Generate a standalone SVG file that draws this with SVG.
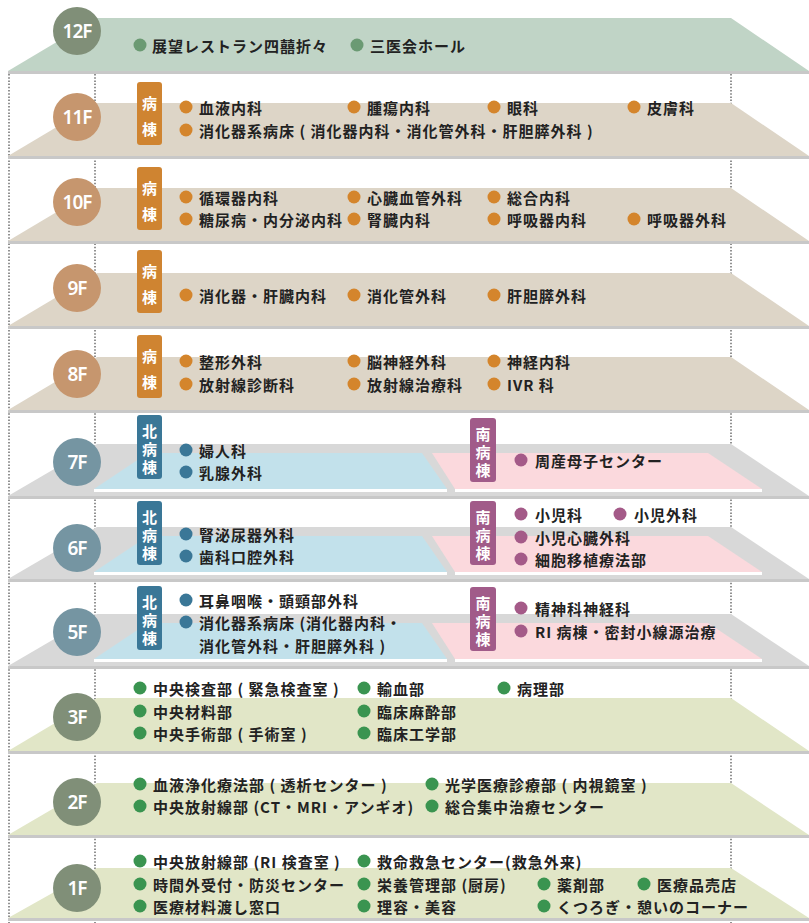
<svg xmlns="http://www.w3.org/2000/svg" width="809" height="923" viewBox="0 0 809 923">
<style>
.t{font-family:"Noto Sans CJK JP","Noto Sans",sans-serif;font-weight:700;font-size:15px;letter-spacing:1px;fill:#222;dominant-baseline:central}
.tg{font-family:"Noto Sans CJK JP","Noto Sans",sans-serif;font-weight:700;font-size:15px;fill:#fff;text-anchor:middle;writing-mode:vertical-rl}
.t2{letter-spacing:11px}
.t3{letter-spacing:3px}
.fl{font-family:"Noto Sans","Noto Sans CJK JP",sans-serif;font-weight:600;font-size:19px;letter-spacing:-1px;fill:#fff;text-anchor:middle;dominant-baseline:central}
.dot{stroke:#6e6e6e;stroke-width:1.5;stroke-dasharray:1.5 1.7;fill:none}
.ln{fill:#c8c8c8}
.pg{fill:#c0d4c6}.pb{fill:#ddd5c7}.pr{fill:#d8d8d8}.po{fill:#e1e6c7}
.cg{fill:#808f78}.cb{fill:#c6966e}.cs{fill:#7595a2}
.bg{fill:#6b9a73}.bb{fill:#d4852c}.bn{fill:#3a7797}.bs{fill:#a45a88}.bo{fill:#3a9450}
.tgo{fill:#cf8431}.tgn{fill:#3a7797}.tgs{fill:#a15b89}
.blue{fill:#c2e1eb}.pink{fill:#fbd9dd}.wh{fill:#fff}
</style>
<g id="guides">
<line class="dot" x1="9" y1="74" x2="9" y2="923"/>
<line class="dot" x1="95" y1="74" x2="95" y2="923"/>
<line class="dot" x1="731" y1="74" x2="731" y2="923"/>
</g>
<g id="f12">
<polygon class="pg" points="97,18 731,18 809,71 8,71"/>
<rect class="ln" x="8" y="71" width="801" height="3"/>
<circle class="cg" cx="77" cy="31" r="24"/><text class="fl" x="77" y="31">12F</text>
<circle class="bg" cx="140" cy="45" r="6.5"/><text class="t" x="152" y="45">展望レストラン四囍折々</text>
<circle class="bg" cx="357" cy="45" r="6.5"/><text class="t" x="370" y="45">三医会ホール</text>
</g>
<g id="f11">
<polygon class="pb" points="97,103 731,103 809,156 8,156"/>
<rect class="ln" x="8" y="156" width="801" height="3"/>
<circle class="cb" cx="77" cy="117" r="24"/><text class="fl" x="77" y="117">11F</text>
<rect class="tgo" x="137" y="82" width="25" height="63" rx="3"/>
<text class="tg t2" x="149.5" y="121.5">病棟</text>
<circle class="bb" cx="186" cy="107" r="6.5"/><text class="t" x="199" y="107">血液内科</text>
<circle class="bb" cx="354" cy="107" r="6.5"/><text class="t" x="367" y="107">腫瘍内科</text>
<circle class="bb" cx="494" cy="107" r="6.5"/><text class="t" x="507" y="107">眼科</text>
<circle class="bb" cx="634" cy="107" r="6.5"/><text class="t" x="647" y="107">皮膚科</text>
<circle class="bb" cx="186" cy="130" r="6.5"/><text class="t" x="199" y="130">消化器系病床 ( 消化器内科・消化管外科・肝胆膵外科 )</text>
</g>
<g id="f10">
<polygon class="pb" points="97,188 731,188 809,241 8,241"/>
<rect class="ln" x="8" y="241" width="801" height="3"/>
<circle class="cb" cx="77" cy="202" r="24"/><text class="fl" x="77" y="202">10F</text>
<rect class="tgo" x="137" y="167" width="25" height="63" rx="3"/>
<text class="tg t2" x="149.5" y="206.5">病棟</text>
<circle class="bb" cx="186" cy="197" r="6.5"/><text class="t" x="199" y="197">循環器内科</text>
<circle class="bb" cx="354" cy="197" r="6.5"/><text class="t" x="367" y="197">心臓血管外科</text>
<circle class="bb" cx="494" cy="197" r="6.5"/><text class="t" x="507" y="197">総合内科</text>
<circle class="bb" cx="186" cy="219" r="6.5"/><text class="t" x="199" y="219">糖尿病・内分泌内科</text>
<circle class="bb" cx="354" cy="219" r="6.5"/><text class="t" x="367" y="219">腎臓内科</text>
<circle class="bb" cx="494" cy="219" r="6.5"/><text class="t" x="507" y="219">呼吸器内科</text>
<circle class="bb" cx="634" cy="219" r="6.5"/><text class="t" x="647" y="219">呼吸器外科</text>
</g>
<g id="f9">
<polygon class="pb" points="97,273 731,273 809,326 8,326"/>
<rect class="ln" x="8" y="326" width="801" height="3"/>
<circle class="cb" cx="77" cy="288" r="24"/><text class="fl" x="77" y="288">9F</text>
<rect class="tgo" x="137" y="250" width="25" height="63" rx="3"/>
<text class="tg t2" x="149.5" y="289.5">病棟</text>
<circle class="bb" cx="186" cy="295" r="6.5"/><text class="t" x="199" y="295">消化器・肝臓内科</text>
<circle class="bb" cx="354" cy="295" r="6.5"/><text class="t" x="367" y="295">消化管外科</text>
<circle class="bb" cx="494" cy="295" r="6.5"/><text class="t" x="507" y="295">肝胆膵外科</text>
</g>
<g id="f8">
<polygon class="pb" points="97,357 731,357 809,410 8,410"/>
<rect class="ln" x="8" y="410" width="801" height="3"/>
<circle class="cb" cx="77" cy="374" r="24"/><text class="fl" x="77" y="374">8F</text>
<rect class="tgo" x="137" y="335" width="25" height="63" rx="3"/>
<text class="tg t2" x="149.5" y="374.5">病棟</text>
<circle class="bb" cx="186" cy="361" r="6.5"/><text class="t" x="199" y="361">整形外科</text>
<circle class="bb" cx="354" cy="361" r="6.5"/><text class="t" x="367" y="361">脳神経外科</text>
<circle class="bb" cx="494" cy="361" r="6.5"/><text class="t" x="507" y="361">神経内科</text>
<circle class="bb" cx="186" cy="384" r="6.5"/><text class="t" x="199" y="384">放射線診断科</text>
<circle class="bb" cx="354" cy="384" r="6.5"/><text class="t" x="367" y="384">放射線治療科</text>
<circle class="bb" cx="494" cy="384" r="6.5"/><text class="t" x="507" y="384">IVR 科</text>
</g>
<g id="f7">
<polygon class="pr" points="97,444 731,444 809,496 8,496"/>
<rect class="ln" x="8" y="496" width="801" height="3"/>
<polygon class="blue" points="148,453 422,453 447,489 94,489"/>
<rect class="wh" x="94" y="489" width="353" height="3"/>
<polygon class="pink" points="432,453 708,453 762,489 455,489"/>
<rect class="wh" x="455" y="489" width="307" height="3"/>
<circle class="cs" cx="77" cy="462" r="24"/><text class="fl" x="77" y="462">7F</text>
<rect class="tgn" x="137" y="415" width="25" height="64" rx="3"/>
<text class="tg t3" x="149.5" y="450.5">北病棟</text>
<circle class="bn" cx="186" cy="450" r="6.5"/><text class="t" x="199" y="450">婦人科</text>
<circle class="bn" cx="186" cy="472" r="6.5"/><text class="t" x="199" y="472">乳腺外科</text>
<rect class="tgs" x="470" y="418" width="26" height="64" rx="3"/>
<text class="tg t3" x="483" y="453.5">南病棟</text>
<circle class="bs" cx="521" cy="460" r="6.5"/><text class="t" x="535" y="460">周産母子センター</text>
</g>
<g id="f6">
<polygon class="pr" points="97,527 731,527 809,579 8,579"/>
<rect class="ln" x="8" y="579" width="801" height="3"/>
<polygon class="blue" points="148,536 422,536 447,572 94,572"/>
<rect class="wh" x="94" y="572" width="353" height="3"/>
<polygon class="pink" points="432,536 708,536 762,572 455,572"/>
<rect class="wh" x="455" y="572" width="307" height="3"/>
<circle class="cs" cx="77" cy="548" r="24"/><text class="fl" x="77" y="548">6F</text>
<rect class="tgn" x="137" y="501" width="25" height="64" rx="3"/>
<text class="tg t3" x="149.5" y="536.5">北病棟</text>
<circle class="bn" cx="186" cy="534" r="6.5"/><text class="t" x="199" y="534">腎泌尿器外科</text>
<circle class="bn" cx="186" cy="556" r="6.5"/><text class="t" x="199" y="556">歯科口腔外科</text>
<rect class="tgs" x="470" y="501" width="26" height="64" rx="3"/>
<text class="tg t3" x="483" y="536.5">南病棟</text>
<circle class="bs" cx="521" cy="514" r="6.5"/><text class="t" x="535" y="514">小児科</text>
<circle class="bs" cx="620" cy="514" r="6.5"/><text class="t" x="634" y="514">小児外科</text>
<circle class="bs" cx="521" cy="537" r="6.5"/><text class="t" x="535" y="537">小児心臓外科</text>
<circle class="bs" cx="521" cy="559" r="6.5"/><text class="t" x="535" y="559">細胞移植療法部</text>
</g>
<g id="f5">
<polygon class="pr" points="97,614 731,614 809,666 8,666"/>
<rect class="ln" x="8" y="666" width="801" height="3"/>
<polygon class="blue" points="148,623 422,623 447,659 94,659"/>
<rect class="wh" x="94" y="659" width="353" height="3"/>
<polygon class="pink" points="432,623 708,623 762,659 455,659"/>
<rect class="wh" x="455" y="659" width="307" height="3"/>
<circle class="cs" cx="77" cy="632" r="24"/><text class="fl" x="77" y="632">5F</text>
<rect class="tgn" x="137" y="586" width="25" height="64" rx="3"/>
<text class="tg t3" x="149.5" y="621.5">北病棟</text>
<circle class="bn" cx="186" cy="600" r="6.5"/><text class="t" x="199" y="600">耳鼻咽喉・頭頸部外科</text>
<circle class="bn" cx="186" cy="622" r="6.5"/><text class="t" x="199" y="622">消化器系病床 (消化器内科・</text>
<text class="t" x="199" y="645">消化管外科・肝胆膵外科 )</text>
<rect class="tgs" x="470" y="587" width="26" height="64" rx="3"/>
<text class="tg t3" x="483" y="622.5">南病棟</text>
<circle class="bs" cx="521" cy="608" r="6.5"/><text class="t" x="535" y="608">精神科神経科</text>
<circle class="bs" cx="521" cy="631" r="6.5"/><text class="t" x="535" y="631">RI 病棟・密封小線源治療</text>
</g>
<g id="f3">
<polygon class="po" points="97,698 731,698 809,751 8,751"/>
<rect class="ln" x="8" y="751" width="801" height="3"/>
<circle class="cg" cx="77" cy="717" r="24"/><text class="fl" x="77" y="717">3F</text>
<circle class="bo" cx="140" cy="688" r="6.5"/><text class="t" x="153" y="688">中央検査部 ( 緊急検査室 )</text>
<circle class="bo" cx="364" cy="688" r="6.5"/><text class="t" x="377" y="688">輸血部</text>
<circle class="bo" cx="504" cy="688" r="6.5"/><text class="t" x="517" y="688">病理部</text>
<circle class="bo" cx="140" cy="711" r="6.5"/><text class="t" x="153" y="711">中央材料部</text>
<circle class="bo" cx="364" cy="711" r="6.5"/><text class="t" x="377" y="711">臨床麻酔部</text>
<circle class="bo" cx="140" cy="733" r="6.5"/><text class="t" x="153" y="733">中央手術部 ( 手術室 )</text>
<circle class="bo" cx="364" cy="733" r="6.5"/><text class="t" x="377" y="733">臨床工学部</text>
</g>
<g id="f2">
<polygon class="po" points="97,783 731,783 809,835 8,835"/>
<rect class="ln" x="8" y="835" width="801" height="3"/>
<circle class="cg" cx="77" cy="802" r="24"/><text class="fl" x="77" y="802">2F</text>
<circle class="bo" cx="140" cy="784" r="6.5"/><text class="t" x="153" y="784">血液浄化療法部 ( 透析センター )</text>
<circle class="bo" cx="432" cy="784" r="6.5"/><text class="t" x="445" y="784">光学医療診療部 ( 内視鏡室 )</text>
<circle class="bo" cx="140" cy="806" r="6.5"/><text class="t" x="153" y="806">中央放射線部 (CT・MRI・アンギオ)</text>
<circle class="bo" cx="432" cy="806" r="6.5"/><text class="t" x="445" y="806">総合集中治療センター</text>
</g>
<g id="f1">
<polygon class="po" points="97,868 731,868 809,918 8,918"/>
<rect class="ln" x="8" y="918" width="801" height="3"/>
<circle class="cg" cx="77" cy="888" r="24"/><text class="fl" x="77" y="888">1F</text>
<circle class="bo" cx="140" cy="861" r="6.5"/><text class="t" x="153" y="861">中央放射線部 (RI 検査室 )</text>
<circle class="bo" cx="364" cy="861" r="6.5"/><text class="t" x="377" y="861">救命救急センター(救急外来)</text>
<circle class="bo" cx="140" cy="884" r="6.5"/><text class="t" x="153" y="884">時間外受付・防災センター</text>
<circle class="bo" cx="364" cy="884" r="6.5"/><text class="t" x="377" y="884">栄養管理部 (厨房)</text>
<circle class="bo" cx="544" cy="884" r="6.5"/><text class="t" x="557" y="884">薬剤部</text>
<circle class="bo" cx="644" cy="884" r="6.5"/><text class="t" x="657" y="884">医療品売店</text>
<circle class="bo" cx="140" cy="906" r="6.5"/><text class="t" x="153" y="906">医療材料渡し窓口</text>
<circle class="bo" cx="364" cy="906" r="6.5"/><text class="t" x="377" y="906">理容・美容</text>
<circle class="bo" cx="544" cy="906" r="6.5"/><text class="t" x="557" y="906">くつろぎ・憩いのコーナー</text>
</g>
</svg>
